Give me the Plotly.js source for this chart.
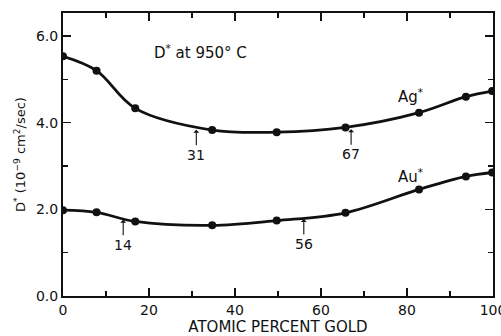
<!DOCTYPE html>
<html><head><meta charset="utf-8">
<script src="https://cdn.plot.ly/plotly-3.0.1.min.js"></script>
<style>html,body{margin:0;padding:0;background:#fff}#c{width:501px;height:336px}</style>
</head><body><div id="c"></div>
<script>
const gold = [0, 7.8, 16.8, 34.7, 49.7, 65.7, 82.8, 93.7, 99.8];
const agD = [5.53, 5.20, 4.33, 3.83, 3.78, 3.89, 4.23, 4.60, 4.73];
const auD = [1.98, 1.93, 1.72, 1.63, 1.74, 1.92, 2.46, 2.76, 2.85];
const agMarks = [31, 67];
const agMarkY = [3.86, 3.87];
const auMarks = [14, 56];
const auMarkY = [1.78, 1.80];

const fam = 'DejaVu Sans, Arial, sans-serif';
const font = {family: fam, size: 14, color: '#111'};
const common = {mode: 'lines+markers', line: {shape: 'spline', smoothing: 1, color: '#111', width: 2.8},
  marker: {size: 8, color: '#111'}, showlegend: false, hoverinfo: 'skip'};
const traces = [
  Object.assign({x: gold, y: agD}, common),
  Object.assign({x: gold, y: auD}, common)
];
const ann = [];
function arrowAnn(x, y, txt) {
  ann.push({x: x, y: y, xref: 'x', yref: 'y', text: txt, showarrow: true, arrowhead: 1,
    arrowsize: 0.9, arrowwidth: 1.1, arrowcolor: '#111', ax: 0, ay: 26, standoff: 1,
    font: {family: fam, size: 14, color: '#111'}});
}
agMarks.forEach((m, i) => arrowAnn(m, agMarkY[i], String(m)));
auMarks.forEach((m, i) => arrowAnn(m, auMarkY[i], String(m)));
ann.push({x: 32, y: 5.64, xref: 'x', yref: 'y', text: 'D<sup>*</sup> at 950° C', showarrow: false, font: {family: fam, size: 15, color: '#111'}});
ann.push({x: 80.8, y: 4.62, xref: 'x', yref: 'y', text: 'Ag<sup>*</sup>', showarrow: false, font: {family: fam, size: 15, color: '#111'}});
ann.push({x: 80.8, y: 2.78, xref: 'x', yref: 'y', text: 'Au<sup>*</sup>', showarrow: false, font: {family: fam, size: 15, color: '#111'}});

const layout = {
  width: 501, height: 336,
  margin: {l: 63, r: 8, t: 13, b: 40},
  paper_bgcolor: '#fff', plot_bgcolor: '#fff',
  font: font,
  annotations: ann,
  xaxis: {range: [0, 100], dtick: 20, tick0: 0, ticks: 'inside', ticklen: 8, tickwidth: 1.5,
    tickcolor: '#111', showline: true, linecolor: '#111', linewidth: 2, mirror: 'ticks',
    showgrid: false, zeroline: false, ticklabeloverflow: 'allow',
    tickfont: {family: fam, size: 14, color: '#111'},
    minor: {dtick: 10, ticks: 'inside', ticklen: 5, tickwidth: 1.3, tickcolor: '#111', showgrid: false},
    title: {text: 'ATOMIC PERCENT GOLD', font: {family: fam, size: 15, color: '#111'}, standoff: 3}},
  yaxis: {range: [0, 6.53], dtick: 2, tick0: 0, tickformat: '.1f', ticks: 'inside', ticklen: 8, tickwidth: 1.5,
    tickcolor: '#111', showline: true, linecolor: '#111', linewidth: 2, mirror: 'ticks',
    showgrid: false, zeroline: false, tickfont: {family: fam, size: 14, color: '#111'},
    minor: {dtick: 1, ticks: 'inside', ticklen: 5, tickwidth: 1.3, tickcolor: '#111', showgrid: false},
    title: {text: 'D<sup>*</sup> (10<sup>−9</sup> cm<sup>2</sup>/sec)', font: {family: fam, size: 13, color: '#111'}, standoff: 7}}
};
Plotly.newPlot('c', traces, layout, {staticPlot: true, displayModeBar: false});
</script></body></html>
